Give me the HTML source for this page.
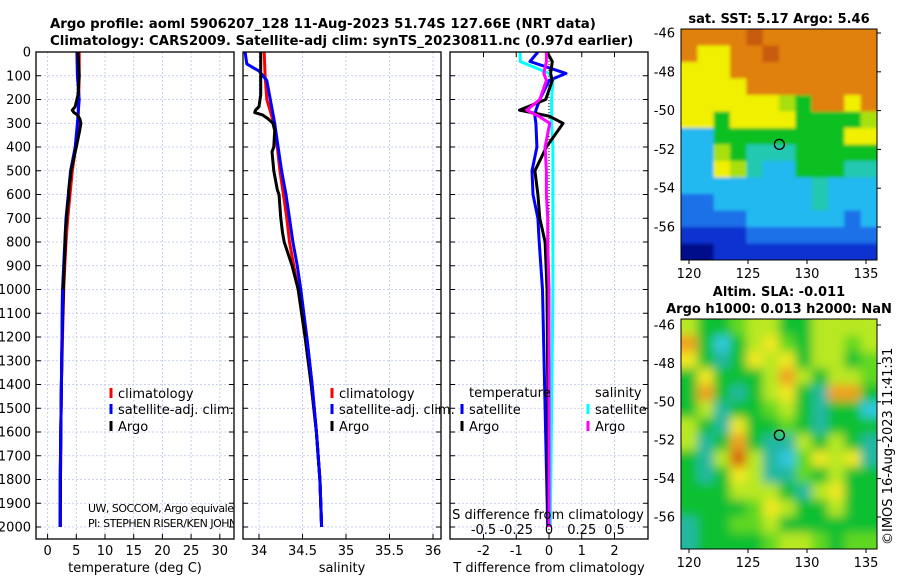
<!DOCTYPE html>
<html><head><meta charset="utf-8"><style>
html,body{margin:0;padding:0;background:#fff;}
svg{display:block;font-family:"DejaVu Sans","Liberation Sans",sans-serif;}
</style></head><body>
<svg id="chart" width="900" height="580" viewBox="0 0 900 580" xmlns="http://www.w3.org/2000/svg">
<defs>
<filter id="blur" filterUnits="userSpaceOnUse" x="660" y="0" width="240" height="580"><feGaussianBlur stdDeviation="5"/></filter>
<filter id="blur2" filterUnits="userSpaceOnUse" x="660" y="0" width="240" height="580"><feGaussianBlur stdDeviation="1.5"/></filter>
<clipPath id="clipM1"><rect x="681" y="29" width="196" height="231"/></clipPath>
<clipPath id="clipM2"><rect x="681" y="319" width="196" height="230"/></clipPath>
</defs>
<text x="50" y="28" font-size="13.3" font-weight="bold">Argo profile: aoml 5906207_128 11-Aug-2023 51.74S 127.66E (NRT data)</text>
<text x="50" y="45" font-size="13.3" font-weight="bold">Climatology: CARS2009. Satellite-adj clim: synTS_20230811.nc (0.97d earlier)</text>
<g id="g"></g>
<text x="779" y="23" font-size="13" font-weight="bold" text-anchor="middle">sat. SST: 5.17 Argo: 5.46</text>
<text x="779" y="296" font-size="13" font-weight="bold" text-anchor="middle">Altim. SLA: -0.011</text>
<text x="779" y="313" font-size="13" font-weight="bold" text-anchor="middle">Argo h1000: 0.013 h2000: NaN</text>
<text transform="translate(892,545) rotate(-90)" font-size="13">©IMOS 16-Aug-2023 11:41:31</text>
</svg>
<script>
// ---- data ----
const depthClim = [0,100,200,300,400,500,600,700,800,900,1000,1200,1400,1600,1800,2000];
const tempClim  = [5.5,5.5,5.4,5.3,4.9,4.3,3.9,3.5,3.2,3.0,2.8,2.6,2.4,2.3,2.25,2.2];
const tempSat   = [5.1,5.2,5.5,5.2,4.8,4.0,3.6,3.2,3.0,2.8,2.6,2.5,2.4,2.3,2.2,2.2];
const salClim   = [34.06,34.07,34.09,34.17,34.21,34.24,34.28,34.32,34.35,34.40,34.45,34.53,34.60,34.66,34.70,34.72];
const salSat    = [33.84,34.09,34.14,34.18,34.22,34.26,34.31,34.35,34.39,34.44,34.48,34.55,34.61,34.66,34.70,34.72];
const depthSatTop = [0,50,70,80,120];
const salSatTop   = [33.84,33.86,33.95,34.0,34.09];
const depthArgo = [0,100,180,230,245,255,265,280,300,330,400,420,500,580,600,700,760,800,900,1000,1200,1400,1600,1800,2000];
const tempArgo  = [5.3,5.5,5.3,4.8,4.3,4.6,5.2,5.6,5.8,5.6,5.0,4.8,4.1,3.7,3.7,3.3,3.1,3.1,2.9,2.75,2.55,2.4,2.3,2.25,2.2];
const salArgo   = [34.02,34.02,34.02,34.0,33.96,33.95,34.04,34.10,34.16,34.18,34.17,34.15,34.17,34.21,34.23,34.25,34.27,34.29,34.38,34.45,34.53,34.60,34.66,34.70,34.72];
const depthDiff = [0,40,90,120,200,245,270,300,400,500,600,700,800,1000,1500,2000];
const tDiffSat  = [-0.34,-0.58,0.52,0.0,-0.28,-0.40,-0.43,-0.40,-0.37,-0.52,-0.49,-0.34,-0.30,-0.20,-0.12,-0.04];
const sDiffSat  = [-0.22,-0.22,0.0,0.03,0.02,0.02,0.02,0.02,0.03,0.03,0.03,0.03,0.03,0.03,0.02,0.01];
const tDiffArgo = [-0.06,0.1,0.05,0.1,-0.1,-0.9,0.0,0.43,-0.08,-0.43,-0.34,-0.28,-0.12,-0.06,-0.03,-0.02];
const sDiffArgo = [-0.02,-0.02,-0.04,-0.02,-0.07,-0.17,-0.08,0.005,-0.03,-0.02,-0.02,-0.01,-0.01,0.0,0.0,0.0];
const depthTicks = [0,100,200,300,400,500,600,700,800,900,1000,1100,1200,1300,1400,1500,1600,1700,1800,1900,2000];
const tempTicks = [0,5,10,15,20,25,30];
const salTicks = [34,34.5,35,35.5,36];
const salTickLabels = ["34","34.5","35","35.5","36"];
const tdTicks = [-2,-1,0,1,2];
const sdTicks = [-0.5,-0.25,0,0.25,0.5];
const sdTickLabels = ["-0.5","-0.25","0","0.25","0.5"];
const latTicks = [-46,-48,-50,-52,-54,-56];
const lonTicks = [120,125,130,135];
const argoLon = 127.66, argoLat = -51.74;
const sstGrid = [
[8,8,8,8,9,8,8,8,8,8,8,8],
[8,7,7,8,8,9,8,8,8,8,8,8],
[7,7,7,8,8,8,8,8,8,8,8,8],
[7,7,7,7,8,8,8,8,8,8,8,8],
[7,7,7,7,7,7,6,5,8,8,7,8],
[7,7,5,7,7,7,7,5,5,5,5,6],
[3,3,5,5,5,5,5,5,5,5,7,7],
[3,3,6,5,4,4,4,5,5,5,5,5],
[3,3,7,6,4,3,3,5,5,5,4,4],
[3,3,3,3,3,3,3,3,4,3,3,3],
[2,2,3,3,3,3,3,3,4,3,3,3],
[2,2,2,2,3,3,3,3,3,3,2,3],
[1,1,1,1,2,2,2,2,2,2,2,2],
[0,0,1,1,1,1,1,1,1,1,1,1]];
const slaGrid = [
[5,3,3,4,5,5,3,3,5,5,5,5],
[7,3,1,3,5,6,4,3,5,5,4,5],
[6,3,2,3,6,5,6,3,5,5,3,4],
[3,6,3,3,3,5,7,5,3,5,5,4],
[3,7,3,2,3,5,6,3,2,7,7,3],
[3,5,2,3,3,4,5,3,2,3,3,1],
[5,3,2,6,3,3,4,3,2,3,3,3],
[5,2,3,7,3,2,2,5,3,5,3,2],
[3,2,5,8,5,2,1,4,6,5,6,2],
[3,2,3,6,5,2,2,4,3,5,3,3],
[3,3,3,5,5,5,3,2,5,6,3,3],
[3,3,3,3,4,6,5,3,3,5,3,3],
[2,3,3,4,4,5,3,3,3,3,3,3],
[2,3,3,3,3,4,5,5,4,3,4,4]];
const sstColors = ["#00108a","#1030d0","#1a70e8","#20b8f0","#20c8b0","#10c020","#a8e010","#f0f000","#e08010","#c85a08"];
const slaColors = ["#2080f0","#30c8e0","#20b8a0","#10c030","#60d820","#b8e820","#f0e820","#f0a020","#d86010"];

// ---- helpers ----
const NS="http://www.w3.org/2000/svg";
const root=document.getElementById('g');
function mk(tag,attrs,parent){const e=document.createElementNS(NS,tag);for(const k in attrs)e.setAttribute(k,attrs[k]);(parent||root).appendChild(e);return e;}
const TOP=52,BOT=539;
const yD=d=>TOP+d*0.2375;
const panels=[
 {x0:36,x1:234,sx:v=>47.6+v*5.74,ticks:tempTicks,labels:tempTicks.map(String),title:"temperature (deg C)",name:"temperature"},
 {x0:243,x1:441,sx:v=>259+(v-34)*87,ticks:salTicks,labels:salTickLabels,title:"salinity",name:"salinity"},
 {x0:450,x1:648,sx:v=>549+v*32.75,ticks:tdTicks,labels:tdTicks.map(String),title:"T difference from climatology",name:"difference"}];
panels.forEach((p,pi)=>{
  const grp=mk('g',{});
  
  
  depthTicks.forEach(d=>{
    const l=mk('line',{x1:p.x0,x2:p.x1,y1:yD(d),y2:yD(d),stroke:'#b8c4ec','stroke-width':0.8,'stroke-dasharray':'2,2'},grp);
    
    
    mk('line',{x1:p.x0,x2:p.x0+5,y1:yD(d),y2:yD(d),stroke:'#000'},grp);
    mk('line',{x1:p.x1-5,x2:p.x1,y1:yD(d),y2:yD(d),stroke:'#000'},grp);
    if(pi===0){const t=mk('text',{x:31,y:yD(d)+4.5,'font-size':13,'text-anchor':'end'},grp);t.textContent=d;
      
      }
  });
  p.ticks.forEach((v,i)=>{
    const x=p.sx(v);
    const l=mk('line',{x1:x,x2:x,y1:TOP,y2:BOT,stroke:'#b8c4ec','stroke-width':0.8,'stroke-dasharray':'2,2'},grp);
    
    
    mk('line',{x1:x,x2:x,y1:BOT-5,y2:BOT,stroke:'#000'},grp);
    const t=mk('text',{x:x,y:555,'font-size':13,'text-anchor':'middle'},grp);t.textContent=p.labels[i];
    
    
  });
  if(pi===2){sdTicks.forEach(v=>{const x=p.sx(v*4);mk('line',{x1:x,x2:x,y1:TOP,y2:TOP+5,stroke:'#000'},grp);});}
  const tt=mk('text',{x:(p.x0+p.x1)/2,y:572,'font-size':13,'text-anchor':'middle'},grp);tt.textContent=p.title;
  
  
  const clip=mk('clipPath',{id:'cp'+pi});mk('rect',{x:p.x0,y:TOP,width:p.x1-p.x0,height:BOT-TOP},clip);
  p.clip=mk('g',{'clip-path':'url(#cp'+pi+')'});
  p.frame=()=>{const r=mk('rect',{x:p.x0,y:TOP,width:p.x1-p.x0,height:BOT-TOP,fill:'none',stroke:'#000','stroke-width':1.3});
    
    };
});
function line(p,depths,vals,color,name,w){
  const pts=depths.map((d,i)=>p.sx(vals[i]).toFixed(1)+','+yD(d).toFixed(1)).join(' ');
  const e=mk('polyline',{points:pts,fill:'none',stroke:color,'stroke-width':w||3,'stroke-linejoin':'round'},p.clip);
  
  
}
const [P1,P2,P3]=panels;
line(P1,depthClim,tempClim,'#f00','temp-climatology-line');
line(P1,depthClim,tempSat,'#00f','temp-satellite-line');
line(P1,depthArgo,tempArgo,'#000','temp-argo-line');
line(P1,depthClim.slice(10),tempSat.slice(10),'#00f','temp-satellite-deep-line');
line(P2,depthClim,salClim,'#f00','sal-climatology-line');
line(P2,depthSatTop.concat(depthClim.slice(3)),salSatTop.concat(salSat.slice(3)),'#00f','sal-satellite-line');
line(P2,depthArgo,salArgo,'#000','sal-argo-line');
line(P2,depthClim.slice(11),salSat.slice(11),'#00f','sal-satellite-deep-line');
const z=P3.sx(0);
const zl=mk('line',{x1:z,x2:z,y1:TOP,y2:BOT,stroke:'#000','stroke-dasharray':'1,2'},P3.clip);


line(P3,depthDiff,tDiffSat,'#00f','t-diff-satellite-line');
line(P3,depthDiff,sDiffSat.map(v=>v*4),'#0ff','s-diff-satellite-line');
line(P3,depthDiff,tDiffArgo,'#000','t-diff-argo-line');
line(P3,depthDiff,sDiffArgo.map(v=>v*4),'#f0f','s-diff-argo-line');
panels.forEach(p=>p.frame());
const sdt=mk('text',{x:548,y:519,'font-size':13,'text-anchor':'middle'});sdt.textContent='S difference from climatology';


sdTicks.forEach((v,i)=>{const t=mk('text',{x:P3.sx(v*4),y:534,'font-size':13,'text-anchor':'middle'});t.textContent=sdTickLabels[i];
  
  });
function legend(x,y,color,label,name){
  const g=mk('g',{});
  
  
  mk('line',{x1:x,x2:x,y1:y-10,y2:y,stroke:color,'stroke-width':3},g);
  const t=mk('text',{x:x+7,y:y,'font-size':13},g);t.textContent=label;
}
legend(111,398,'#f00','climatology','legend-entry-climatology');
legend(111,414,'#00f','satellite-adj. clim.','legend-entry-satellite');
legend(111,431,'#000','Argo','legend-entry-argo');
legend(332,398,'#f00','climatology','legend-entry-climatology');
legend(332,414,'#00f','satellite-adj. clim.','legend-entry-satellite');
legend(332,431,'#000','Argo','legend-entry-argo');
legend(462,414,'#00f','satellite','legend-entry-t-satellite');
legend(462,431,'#000','Argo','legend-entry-t-argo');
legend(588,414,'#0ff','satellite','legend-entry-s-satellite');
legend(588,431,'#f0f','Argo','legend-entry-s-argo');
const lt=mk('text',{x:469,y:397,'font-size':13});lt.textContent='temperature';


const ls=mk('text',{x:595,y:397,'font-size':13});ls.textContent='salinity';


const cc=mk('clipPath',{id:'cpCred'});mk('rect',{x:80,y:490,width:154,height:40},cc);
const cg=mk('g',{'clip-path':'url(#cpCred)'});
const c1=mk('text',{x:88,y:512,'font-size':11,'letter-spacing':'-0.5'},cg);c1.textContent='UW, SOCCOM, Argo equivalent';


const c2=mk('text',{x:88,y:527,'font-size':11,'letter-spacing':'-0.5'},cg);c2.textContent='PI: STEPHEN RISER/KEN JOHNSON';


const lonX=l=>689+(l-120)*11.8;
function map(grid,colors,x0,y0,w,h,latY,clipId,name,filt){
  const g=mk('g',{});
  
  
  const cl=mk('g',{'clip-path':'url(#'+clipId+')'},g);
  const inner=mk('g',{filter:'url(#'+filt+')'},cl);
  const rows=grid.length,cols=grid[0].length,cw=w/cols,ch=h/rows;
  for(let r=-1;r<=rows;r++)for(let c=-1;c<=cols;c++){
    const rr=Math.min(rows-1,Math.max(0,r)),cc2=Math.min(cols-1,Math.max(0,c));
    const cell=mk('rect',{x:x0+c*cw,y:y0+r*ch,width:cw+0.6,height:ch+0.6,fill:colors[grid[rr][cc2]]},inner);
    
    
  }
  mk('rect',{x:x0,y:y0,width:w,height:h,fill:'none',stroke:'#000','stroke-width':1},g);
  latTicks.forEach(v=>{const y=latY(v);mk('line',{x1:x0+w,x2:x0+w+4,y1:y,y2:y,stroke:'#000'},g);
    const t=mk('text',{x:x0-6,y:y+4.5,'font-size':13,'text-anchor':'end'},g);t.textContent=v;
    
    });
  lonTicks.forEach(v=>{const x=lonX(v);mk('line',{x1:x,x2:x,y1:y0+h,y2:y0+h+4,stroke:'#000'},g);
    const t=mk('text',{x:x,y:y0+h+18,'font-size':13,'text-anchor':'middle'},g);t.textContent=v;
    
    });
  const m=mk('circle',{cx:lonX(argoLon),cy:latY(argoLat),r:5,fill:'none',stroke:'#000','stroke-width':1.3},g);
  
  
}
map(sstGrid,sstColors,681,29,196,231,v=>33+(-46-v)*19.4,'clipM1','sst-map','blur2');
map(slaGrid,slaColors,681,319,196,230,v=>325+(-46-v)*19.2,'clipM2','sla-map','blur');
</script>
</body></html>
